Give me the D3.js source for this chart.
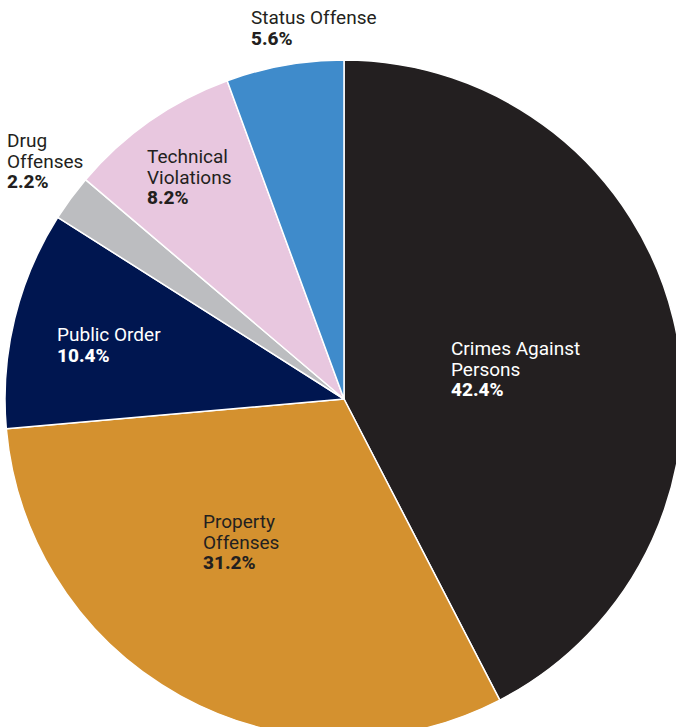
<!DOCTYPE html>
<html>
<head>
<meta charset="utf-8">
<script src="https://cdn.jsdelivr.net/npm/d3@7"></script>
<style>
  html, body { margin: 0; padding: 0; background: #ffffff; }
  svg { display: block; }
  text { font-family: Roboto, "Liberation Sans", sans-serif; }
</style>
</head>
<body>
<svg id="chart" width="676" height="727"></svg>
<script>
// Offense categories, clockwise from 12 o'clock
const categories = [
  "Crimes Against Persons",
  "Property Offenses",
  "Public Order",
  "Drug Offenses",
  "Technical Violations",
  "Status Offense"
];
const shares = [42.4, 31.2, 10.4, 2.2, 8.2, 5.6];
const labelLines = [
  ["Crimes Against", "Persons"],
  ["Property", "Offenses"],
  ["Public Order"],
  ["Drug", "Offenses"],
  ["Technical", "Violations"],
  ["Status Offense"]
];
const colors = ["#231f20", "#d4912f", "#001650", "#bcbdc0", "#e8c7df", "#3f8bcb"];
const textColors = ["#ffffff", "#231f20", "#ffffff", "#231f20", "#231f20", "#231f20"];

// Layout: pie centre / radius and where each label block's first baseline sits
const cx = 344, cy = 399, radius = 339;
const labelAnchor = [
  [451, 355], [203, 528], [57, 341], [7, 147], [147, 163], [251, 24]
];
const lineHeight = 20.7;

const svg = d3.select("#chart");
const data = categories.map((c, i) => ({ name: c, value: shares[i], i }));

const pie = d3.pie().sort(null).value(d => d.value);
const arc = d3.arc().innerRadius(0).outerRadius(radius);

const g = svg.append("g").attr("transform", `translate(${cx},${cy})`);
g.selectAll("path")
  .data(pie(data))
  .join("path")
  .attr("d", arc)
  .attr("fill", d => colors[d.data.i])
  .attr("stroke", "#ffffff")
  .attr("stroke-width", 1.5)
  .attr("stroke-linejoin", "round");

const labels = svg.append("g");
data.forEach((d, i) => {
  const [x, y] = labelAnchor[i];
  const t = labels.append("text")
    .attr("x", x).attr("y", y)
    .attr("fill", textColors[i])
    .attr("font-size", 19);
  labelLines[i].forEach((line, k) => {
    t.append("tspan").attr("x", x).attr("y", y + k * lineHeight).text(line);
  });
  t.append("tspan")
    .attr("x", x)
    .attr("y", y + labelLines[i].length * lineHeight)
    .attr("font-weight", 800)
    .text(d3.format(".1f")(d.value) + "%");
});
</script>
</body>
</html>
